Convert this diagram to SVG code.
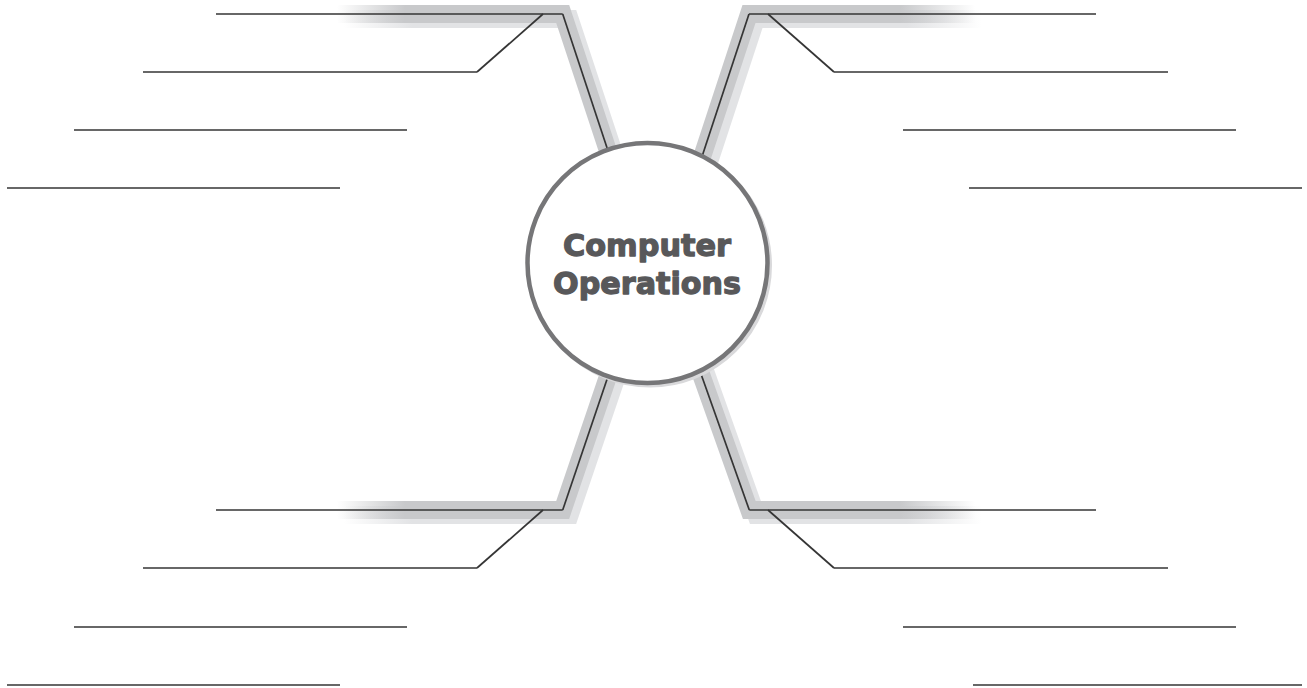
<svg xmlns="http://www.w3.org/2000/svg" width="1307" height="688" viewBox="0 0 1307 688">
  <style>
    .ln { fill: none; stroke: #353535; stroke-width: 1.7; stroke-linejoin: miter; }
    .band { fill: none; stroke-width: 18; stroke-linejoin: miter; stroke-miterlimit: 10; }
    .lbl { font-family: "DejaVu Sans", "Liberation Sans", sans-serif; font-weight: bold; font-size: 31px; fill: #58585a; stroke: #58585a; stroke-width: 1.3; stroke-linejoin: round; text-anchor: middle; }
  </style>
  <defs>
    <linearGradient id="gL" gradientUnits="userSpaceOnUse" x1="337" y1="0" x2="405" y2="0">
      <stop offset="0" stop-color="#c8c9cb" stop-opacity="0"/>
      <stop offset="1" stop-color="#c8c9cb" stop-opacity="1"/>
    </linearGradient>
    <linearGradient id="gLs" gradientUnits="userSpaceOnUse" x1="337" y1="0" x2="405" y2="0">
      <stop offset="0" stop-color="#e2e3e5" stop-opacity="0"/>
      <stop offset="1" stop-color="#e2e3e5" stop-opacity="1"/>
    </linearGradient>
    <linearGradient id="gR" gradientUnits="userSpaceOnUse" x1="900" y1="0" x2="975" y2="0">
      <stop offset="0" stop-color="#c8c9cb" stop-opacity="1"/>
      <stop offset="1" stop-color="#c8c9cb" stop-opacity="0"/>
    </linearGradient>
    <linearGradient id="gRs" gradientUnits="userSpaceOnUse" x1="900" y1="0" x2="975" y2="0">
      <stop offset="0" stop-color="#e2e3e5" stop-opacity="1"/>
      <stop offset="1" stop-color="#e2e3e5" stop-opacity="0"/>
    </linearGradient>
  </defs>
  <rect x="0" y="0" width="1307" height="688" fill="#ffffff"/>

  <g id="connectors">
    <g transform="translate(7,5)">
      <path class="band" stroke="url(#gLs)" d="M337 14 L562.7 14 L607 148 L620 187"/>
      <path class="band" stroke="url(#gLs)" d="M337 510 L562.7 510 L607.5 378 L620 341"/>
      <path class="band" stroke="url(#gRs)" d="M975 14 L749 14 L703 154 L690 193"/>
      <path class="band" stroke="url(#gRs)" d="M975 510 L749.3 510 L702 377 L690 343"/>
    </g>
    <path class="band" stroke="url(#gL)" d="M337 14 L562.7 14 L607 148 L620 187"/>
    <path class="band" stroke="url(#gL)" d="M337 510 L562.7 510 L607.5 378 L620 341"/>
    <path class="band" stroke="url(#gR)" d="M975 14 L749 14 L703 154 L690 193"/>
    <path class="band" stroke="url(#gR)" d="M975 510 L749.3 510 L702 377 L690 343"/>
    <path class="ln" d="M562.7 14 L620 187"/>
    <path class="ln" d="M562.7 510 L620 341"/>
    <path class="ln" d="M749 14 L690 193"/>
    <path class="ln" d="M749.3 510 L690 343"/>
    <path class="ln" d="M477 72 L543 14"/>
    <path class="ln" d="M477 568 L543 510"/>
    <path class="ln" d="M834 72 L768 14"/>
    <path class="ln" d="M834 568 L768 510"/>
  </g>

  <g id="slot-tl-1"><path class="ln" d="M216 14 L562.7 14"/></g>
  <g id="slot-tl-2"><path class="ln" d="M143 72 L477 72"/></g>
  <g id="slot-tl-3"><path class="ln" d="M74 130 L407 130"/></g>
  <g id="slot-tl-4"><path class="ln" d="M7 188 L340 188"/></g>

  <g id="slot-tr-1"><path class="ln" d="M749 14 L1096 14"/></g>
  <g id="slot-tr-2"><path class="ln" d="M834 72 L1168 72"/></g>
  <g id="slot-tr-3"><path class="ln" d="M903 130 L1236 130"/></g>
  <g id="slot-tr-4"><path class="ln" d="M969 188 L1302 188"/></g>

  <g id="slot-bl-1"><path class="ln" d="M216 510 L562.7 510"/></g>
  <g id="slot-bl-2"><path class="ln" d="M143 568 L477 568"/></g>
  <g id="slot-bl-3"><path class="ln" d="M74 627 L407 627"/></g>
  <g id="slot-bl-4"><path class="ln" d="M7 685 L340 685"/></g>

  <g id="slot-br-1"><path class="ln" d="M749.3 510 L1096 510"/></g>
  <g id="slot-br-2"><path class="ln" d="M834 568 L1168 568"/></g>
  <g id="slot-br-3"><path class="ln" d="M903 627 L1236 627"/></g>
  <g id="slot-br-4"><path class="ln" d="M973 685 L1302 685"/></g>

  <g id="center">
    <circle cx="650" cy="265.5" r="120" fill="none" stroke="#d9d9db" stroke-width="4"/>
    <circle cx="647.5" cy="263" r="120" fill="#ffffff" stroke="#767678" stroke-width="4.5"/>
    <text class="lbl" x="647" y="256" textLength="168" lengthAdjust="spacingAndGlyphs">Computer</text>
    <text class="lbl" x="647" y="294" textLength="188" lengthAdjust="spacingAndGlyphs">Operations</text>
  </g>
</svg>
